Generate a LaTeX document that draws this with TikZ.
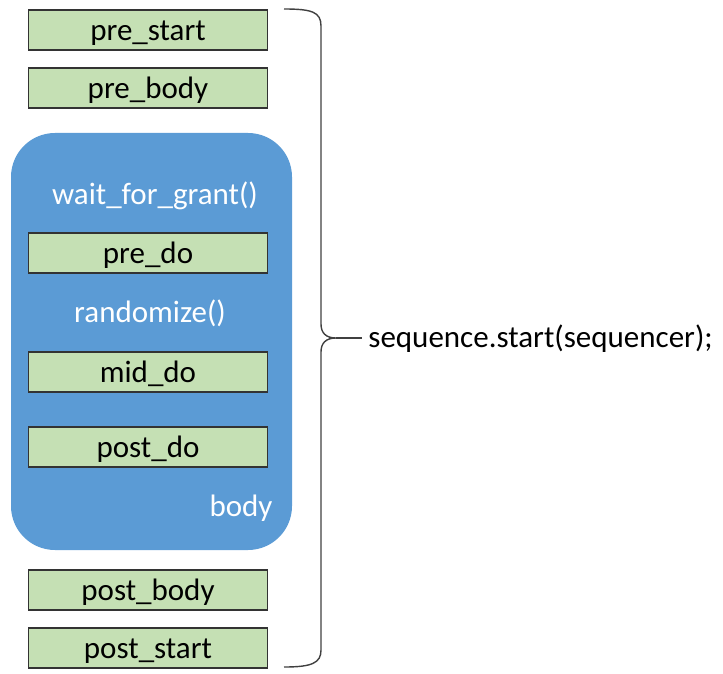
\documentclass[tikz,border=0pt]{standalone}
\usepackage{fontspec}
\setmainfont{Carlito}
\definecolor{boxgreen}{HTML}{C5E0B4}
\definecolor{boxline}{HTML}{333333}
\definecolor{bodyblue}{HTML}{5B9BD5}
\definecolor{bracegray}{HTML}{404040}
\tikzstyle{every node}=[font=\fontsize{15.5pt}{18pt}\selectfont, inner sep=0pt, text height=12.5pt, text depth=2pt]
\tikzstyle{phase}=[rectangle, draw=boxline, fill=boxgreen, line width=0.8pt, minimum width=119.5pt, minimum height=20pt, text=black]
\tikzstyle{bodyblock}=[rectangle, rounded corners=22pt, fill=bodyblue, minimum width=140.5pt, minimum height=208.5pt]
\tikzstyle{call}=[text=white]

\begin{document}
\begin{tikzpicture}[x=0.5pt, y=-0.5pt]
	\useasboundingbox (0,0) rectangle (723,674);

    % body block (blue, rounded)
    \node[bodyblock] (body) at (151.5,341.5) {};

    % hooks before body
    \node[phase] (prestart) at (148,30) {pre\_start};
    \node[phase] (prebody) at (148,88) {pre\_body};

    % inside body
    \node[call] (waitgrant) at (155,194) {wait\_for\_grant()};
    \node[phase] (predo) at (148,253) {pre\_do};
    \node[call] (randomize) at (150,312) {randomize()};
    \node[phase] (middo) at (148,372) {mid\_do};
    \node[phase] (postdo) at (148,447) {post\_do};
    \node[call] (bodylabel) at (241,506) {body};

    % hooks after body
    \node[phase] (postbody) at (148,590) {post\_body};
    \node[phase] (poststart) at (148,648) {post\_start};

    % brace on the right
    \coordinate (bracetop) at (284,9);
    \coordinate (bracebot) at (284,667);
    \coordinate (bracetip) at (336,338);
    \coordinate (bracetail) at (362,338);
    \draw[bracegray, line width=0.7pt]
        (bracetop) .. controls (312,9) and (321,12) .. (321,26) -- (321,324)
        .. controls (321,333) and (326,338) .. (bracetip)
        .. controls (326,338) and (321,343) .. (321,352) -- (321,650)
        .. controls (321,663) and (312,667) .. (bracebot);
    \draw[bracegray, line width=0.7pt] (bracetip) -- (bracetail);

    \node[anchor=west, text=black] (seqstart) at (368,337) {sequence.start(sequencer);};

\end{tikzpicture}
\end{document}
